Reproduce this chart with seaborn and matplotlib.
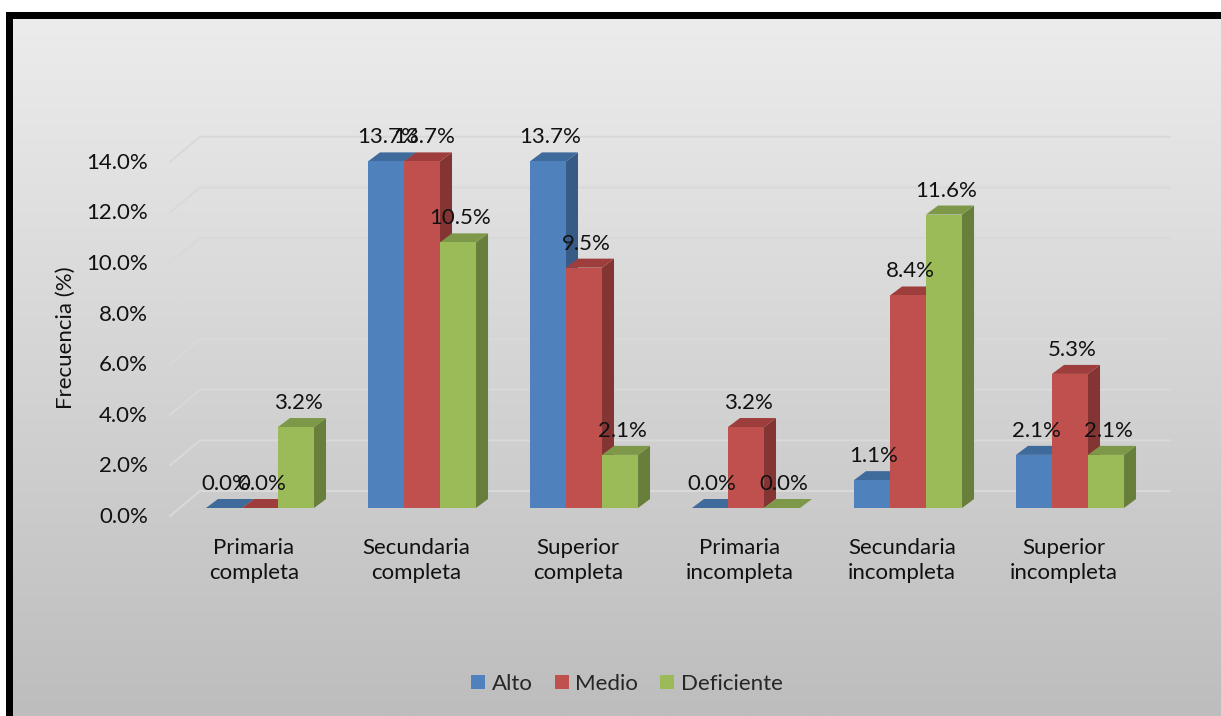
import numpy as np
import pandas as pd
import matplotlib
matplotlib.use("Agg")
import matplotlib.pyplot as plt
import matplotlib.colors as mcolors
from matplotlib.patches import Polygon, Rectangle
from matplotlib.lines import Line2D
from matplotlib.transforms import IdentityTransform, ScaledTranslation
import seaborn as sns

# ---- data -------------------------------------------------------------
categories = ["Primaria\ncompleta", "Secundaria\ncompleta", "Superior\ncompleta",
              "Primaria\nincompleta", "Secundaria\nincompleta", "Superior\nincompleta"]
levels = ["Alto", "Medio", "Deficiente"]
alto = [0.0, 13.7, 13.7, 0.0, 1.1, 2.1]
medio = [0.0, 13.7, 9.5, 3.2, 8.4, 5.3]
deficiente = [3.2, 10.5, 2.1, 0.0, 11.6, 2.1]
y_ticks = [0, 2, 4, 6, 8, 10, 12, 14]
y_tick_labels = [f"{t:.1f}%" for t in y_ticks]
y_title = "Frecuencia (%)"

rows = []
for lvl, vals in zip(levels, [alto, medio, deficiente]):
    for cat, v in zip(categories, vals):
        rows.append({"Nivel": cat, "Serie": lvl, "Valor": v})
df = pd.DataFrame(rows)

# ---- style ------------------------------------------------------------
front_colors = ["#4F81BD", "#C0504D", "#9BBB59"]
top_colors = ["#3F6A9C", "#9E3E3C", "#7D9848"]
side_colors = ["#365B87", "#843533", "#687F3C"]
grid_color = "#D9D9D9"
text_color = "#111111"

sns.set_style("white")
plt.rcParams["font.family"] = ["Lato", "DejaVu Sans"]
FS = 16

W, H = 1221, 716
fig = plt.figure(figsize=(W / 100, H / 100), dpi=100, facecolor="white")

# thick black frame with a vertical grey gradient inside
fig.patches.append(Rectangle((6 / W, 0), 1, (H - 12) / H, transform=fig.transFigure,
                             facecolor="black", edgecolor="none", zorder=-2))
bg = fig.add_axes([13 / W, 0, 1 - 13 / W, (H - 19) / H], zorder=-1)
grad = np.linspace(0, 1, 256).reshape(-1, 1)
cmap = mcolors.LinearSegmentedColormap.from_list("bg", ["#ECECEC", "#BDBDBD"])
bg.imshow(grad, aspect="auto", cmap=cmap, extent=[0, 1, 0, 1], origin="upper")
bg.set_axis_off()

# plotting area
px_per_unit = 25.3
ax = fig.add_axes([150 / W, (H - 508) / H, 1030 / W, 16 * px_per_unit / H], zorder=1)
ax.patch.set_alpha(0)

sns.barplot(data=df, x="Nivel", y="Valor", hue="Serie", order=categories,
            hue_order=levels, palette=front_colors, saturation=1, width=0.667,
            linewidth=0, ax=ax, legend=True)

ax.set_xlim(-0.679, 5.679)
ax.set_ylim(0, 16)
ax.set_autoscale_on(False)
ax.set_xticks([])
ax.set_yticks([])
ax.set_xlabel("")
ax.set_ylabel("")
for s in ax.spines.values():
    s.set_visible(False)

ident = IdentityTransform()
to_px = ax.transData.transform
bbox = ax.get_window_extent()

# back-wall gridlines with the floor depth
for t, lab in zip(y_ticks, y_tick_labels):
    yb = to_px((0, t))[1]
    xs = [bbox.x0 + 20, bbox.x0 + 50, bbox.x1 - 10]
    ys = [yb - 8, yb + 17, yb + 17]
    ax.add_artist(Line2D(xs, ys, transform=ident, color=grid_color, lw=1.5,
                         zorder=0.5, clip_on=False))
    ax.text(bbox.x0 - 2, yb - 9, lab, transform=ident, ha="right", va="center",
            fontsize=FS, color=text_color, clip_on=False)

# 3-D look for each bar: side and top faces
dx, dy = 12, 9
hex_front = [mcolors.to_hex(c).lower() for c in front_colors]
bars = [p for p in ax.patches if isinstance(p, Rectangle) and p.get_width() > 0]
bars.sort(key=lambda p: p.get_x())
for rank, bar in enumerate(bars):
    ci = hex_front.index(mcolors.to_hex(bar.get_facecolor()).lower())
    x0, x1 = bar.get_x(), bar.get_x() + bar.get_width()
    h = bar.get_height()
    (X0, Y0) = to_px((x0, 0))
    (X1, Y1) = to_px((x1, h))
    base = 3 + 3 * rank
    bar.set_zorder(base + 2)
    side = Polygon([(X1, Y0), (X1, Y1), (X1 + dx, Y1 + dy), (X1 + dx, Y0 + dy)],
                   closed=True, transform=ident, facecolor=side_colors[ci],
                   edgecolor="none", zorder=base + 1, clip_on=False)
    top = Polygon([(X0, Y1), (X1, Y1), (X1 + dx, Y1 + dy), (X0 + dx, Y1 + dy)],
                  closed=True, transform=ident, facecolor=top_colors[ci],
                  edgecolor="none", zorder=base + 1, clip_on=False)
    ax.add_artist(side)
    ax.add_artist(top)
    ax.text((X0 + X1) / 2 + 2, Y1 + 24, f"{h:.1f}%", transform=ident,
            ha="center", va="center", fontsize=FS, color=text_color,
            zorder=100, clip_on=False)

# category labels under each group
cat_off = ax.transData + ScaledTranslation(-6 / 100, -30 / 100, fig.dpi_scale_trans)
for i, cat in enumerate(categories):
    ax.text(i, 0, cat, transform=cat_off, ha="center", va="top", fontsize=FS,
            color=text_color, linespacing=1.32, clip_on=False)

fig.text(66 / W, 1 - 338 / H, y_title, rotation=90, ha="center", va="center",
         fontsize=FS, color=text_color)

sns.move_legend(ax, "center", bbox_to_anchor=(627 / W, 1 - 684 / H),
                bbox_transform=fig.transFigure, ncol=3, frameon=False, title=None,
                fontsize=FS, handlelength=0.62, handleheight=0.62,
                handletextpad=0.3, columnspacing=1.0)

fig.savefig("out.png", dpi=100, facecolor="white")
